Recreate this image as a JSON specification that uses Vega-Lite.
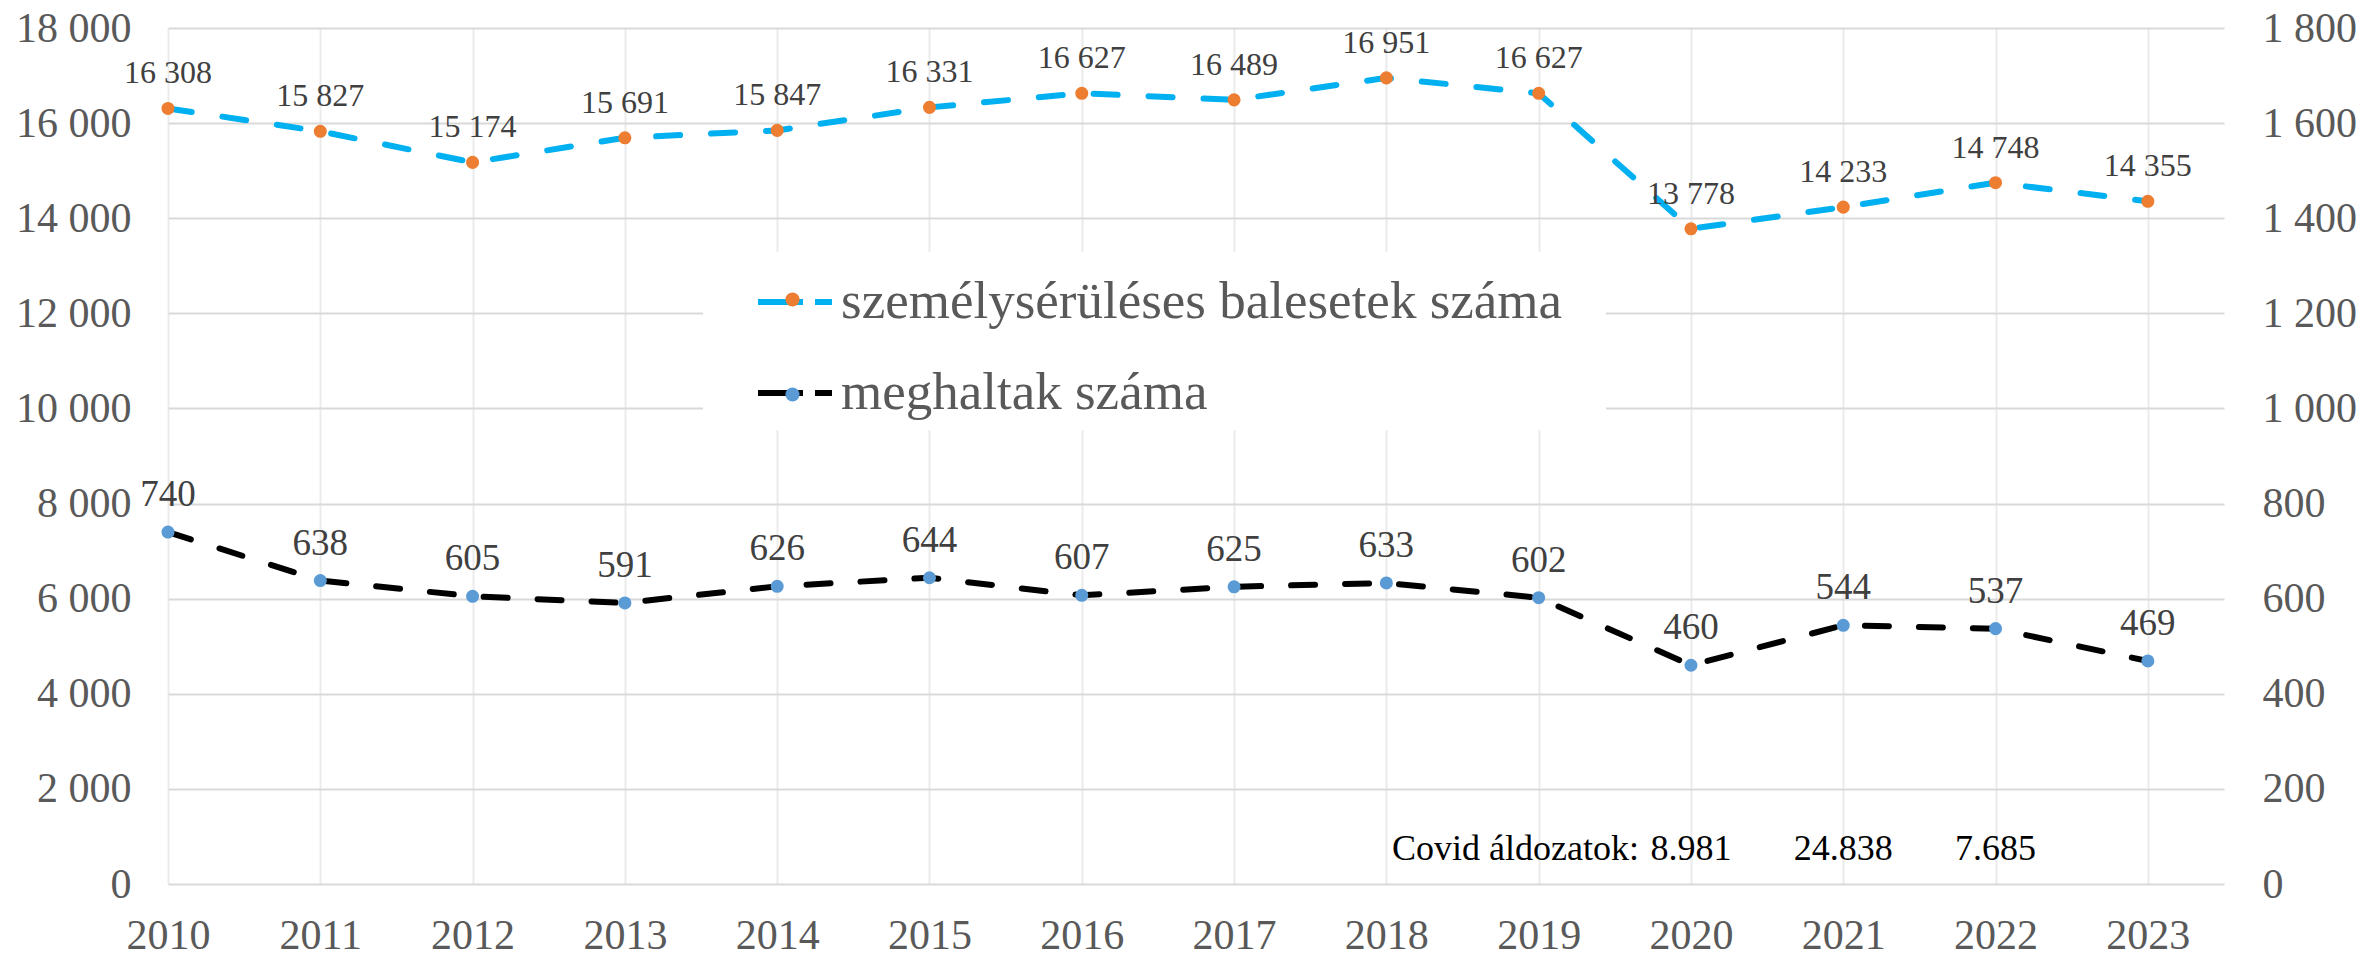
{
  "$schema": "https://vega.github.io/schema/vega-lite/v6.json",
  "width": 2056,
  "height": 856,
  "autosize": {"type": "none"},
  "padding": {"left": 168, "top": 28, "right": 137, "bottom": 70},
  "background": "white",
  "config": {
    "font": "Liberation Serif",
    "view": {"stroke": null},
    "locale": {"number": {"decimal": ",", "thousands": " ", "grouping": [3], "currency": ["", ""]}},
    "axis": {"labelFont": "Liberation Serif", "labelColor": "#595959", "labelFontSize": 42, "ticks": false, "domain": false, "title": null}
  },
  "datasets": {
    "accidents": [
      {"year": 2010, "series": "személysérüléses balesetek száma", "value": 16308},
      {"year": 2011, "series": "személysérüléses balesetek száma", "value": 15827},
      {"year": 2012, "series": "személysérüléses balesetek száma", "value": 15174},
      {"year": 2013, "series": "személysérüléses balesetek száma", "value": 15691},
      {"year": 2014, "series": "személysérüléses balesetek száma", "value": 15847},
      {"year": 2015, "series": "személysérüléses balesetek száma", "value": 16331},
      {"year": 2016, "series": "személysérüléses balesetek száma", "value": 16627},
      {"year": 2017, "series": "személysérüléses balesetek száma", "value": 16489},
      {"year": 2018, "series": "személysérüléses balesetek száma", "value": 16951},
      {"year": 2019, "series": "személysérüléses balesetek száma", "value": 16627},
      {"year": 2020, "series": "személysérüléses balesetek száma", "value": 13778, "covid": "8.981"},
      {"year": 2021, "series": "személysérüléses balesetek száma", "value": 14233, "covid": "24.838"},
      {"year": 2022, "series": "személysérüléses balesetek száma", "value": 14748, "covid": "7.685"},
      {"year": 2023, "series": "személysérüléses balesetek száma", "value": 14355}
    ],
    "deaths": [
      {"year": 2010, "series": "meghaltak száma", "value": 740},
      {"year": 2011, "series": "meghaltak száma", "value": 638},
      {"year": 2012, "series": "meghaltak száma", "value": 605},
      {"year": 2013, "series": "meghaltak száma", "value": 591},
      {"year": 2014, "series": "meghaltak száma", "value": 626},
      {"year": 2015, "series": "meghaltak száma", "value": 644},
      {"year": 2016, "series": "meghaltak száma", "value": 607},
      {"year": 2017, "series": "meghaltak száma", "value": 625},
      {"year": 2018, "series": "meghaltak száma", "value": 633},
      {"year": 2019, "series": "meghaltak száma", "value": 602},
      {"year": 2020, "series": "meghaltak száma", "value": 460},
      {"year": 2021, "series": "meghaltak száma", "value": 544},
      {"year": 2022, "series": "meghaltak száma", "value": 537},
      {"year": 2023, "series": "meghaltak száma", "value": 469}
    ]
  },
  "encoding": {
    "x": {
      "field": "year",
      "type": "quantitative",
      "scale": {"domain": [2010, 2023.5], "nice": false, "zero": false},
      "axis": {
        "orient": "bottom",
        "values": [2010, 2010.5, 2011, 2011.5, 2012, 2012.5, 2013, 2013.5, 2014, 2014.5, 2015, 2015.5, 2016, 2016.5, 2017, 2017.5, 2018, 2018.5, 2019, 2019.5, 2020, 2020.5, 2021, 2021.5, 2022, 2022.5, 2023, 2023.5],
        "format": "d",
        "labelExpr": "datum.value % 1 === 0 ? datum.label : ''",
        "labelFlush": false,
        "labelOverlap": false,
        "labelPadding": 31,
        "grid": true,
        "gridColor": "#ebebeb",
        "gridWidth": 2
      }
    }
  },
  "layer": [
    {
      "data": {"name": "accidents"},
      "encoding": {
        "y": {
          "field": "value",
          "type": "quantitative",
          "scale": {"domain": [0, 18000], "nice": false},
          "axis": {
            "orient": "left",
            "values": [0, 2000, 4000, 6000, 8000, 10000, 12000, 14000, 16000, 18000],
            "grid": true,
            "gridColor": "#d9d9d9",
            "gridWidth": 2,
            "labelPadding": 37
          }
        }
      },
      "layer": [
        {
          "mark": {"type": "line", "strokeWidth": 6, "strokeDash": [24, 31], "strokeCap": "round"},
          "encoding": {
            "stroke": {
              "field": "series",
              "type": "nominal",
              "scale": {"domain": ["személysérüléses balesetek száma", "meghaltak száma"], "range": ["#00B0F0", "#000000"]},
              "legend": {
                "orient": "none",
                "legendX": 535,
                "legendY": 224,
                "title": " ",
                "titleOrient": "right",
                "titlePadding": 34,
                "titleFontSize": 10,
                "symbolType": "stroke",
                "symbolSize": 5476,
                "symbolStrokeWidth": 6,
                "symbolDash": [45, 12, 17, 40],
                "symbolOffset": 42,
                "padding": 10,
                "fillColor": "white",
                "labelFontSize": 53,
                "labelColor": "#595959",
                "labelFont": "Liberation Serif",
                "labelOffset": 6,
                "labelLimit": 1400,
                "rowPadding": 24
              }
            }
          }
        },
        {
          "mark": {"type": "point", "filled": true, "size": 170, "opacity": 1},
          "encoding": {
            "fill": {
              "field": "series",
              "type": "nominal",
              "scale": {"domain": ["személysérüléses balesetek száma", "meghaltak száma", " "], "range": ["#ED7D31", "#5B9BD5", "#ffffff"]},
              "legend": {
                "orient": "none",
                "legendX": 598,
                "legendY": 245,
                "title": null,
                "values": ["személysérüléses balesetek száma", "meghaltak száma"],
                "symbolType": "circle",
                "symbolSize": 200,
                "symbolStrokeWidth": 0,
                "symbolOpacity": 1,
                "padding": 0,
                "labelFontSize": 53,
                "labelOpacity": 0,
                "labelFont": "Liberation Serif",
                "labelLimit": 1400,
                "rowPadding": 41
              }
            }
          }
        },
        {
          "mark": {"type": "text", "dy": -25, "baseline": "alphabetic", "fontSize": 32, "color": "#404040", "font": "Liberation Serif"},
          "encoding": {"text": {"field": "value", "type": "quantitative", "format": ","}}
        },
        {
          "transform": [{"filter": "isValid(datum.covid)"}],
          "mark": {"type": "text", "dy": -24, "baseline": "alphabetic", "fontSize": 36, "color": "#000000", "font": "Liberation Serif"},
          "encoding": {"y": {"datum": 0}, "text": {"field": "covid", "type": "nominal"}}
        },
        {
          "transform": [{"filter": "datum.year == 2020"}],
          "mark": {"type": "text", "text": "Covid áldozatok:", "align": "right", "dx": -52, "dy": -24, "baseline": "alphabetic", "fontSize": 36, "color": "#000000", "font": "Liberation Serif"},
          "encoding": {"y": {"datum": 0}}
        }
      ]
    },
    {
      "data": {"name": "deaths"},
      "encoding": {
        "y": {
          "field": "value",
          "type": "quantitative",
          "scale": {"domain": [0, 1800], "nice": false},
          "axis": {
            "orient": "right",
            "values": [0, 200, 400, 600, 800, 1000, 1200, 1400, 1600, 1800],
            "grid": false,
            "labelPadding": 38
          }
        }
      },
      "layer": [
        {
          "mark": {"type": "line", "strokeWidth": 6, "strokeDash": [24, 30], "strokeCap": "round"},
          "encoding": {"stroke": {"field": "series", "type": "nominal"}}
        },
        {
          "mark": {"type": "point", "filled": true, "size": 170, "opacity": 1},
          "encoding": {"fill": {"field": "series", "type": "nominal"}}
        },
        {
          "mark": {"type": "text", "dy": -26, "baseline": "alphabetic", "fontSize": 37, "color": "#404040", "font": "Liberation Serif"},
          "encoding": {"text": {"field": "value", "type": "quantitative", "format": ","}}
        }
      ]
    }
  ],
  "resolve": {"scale": {"y": "independent"}}
}
